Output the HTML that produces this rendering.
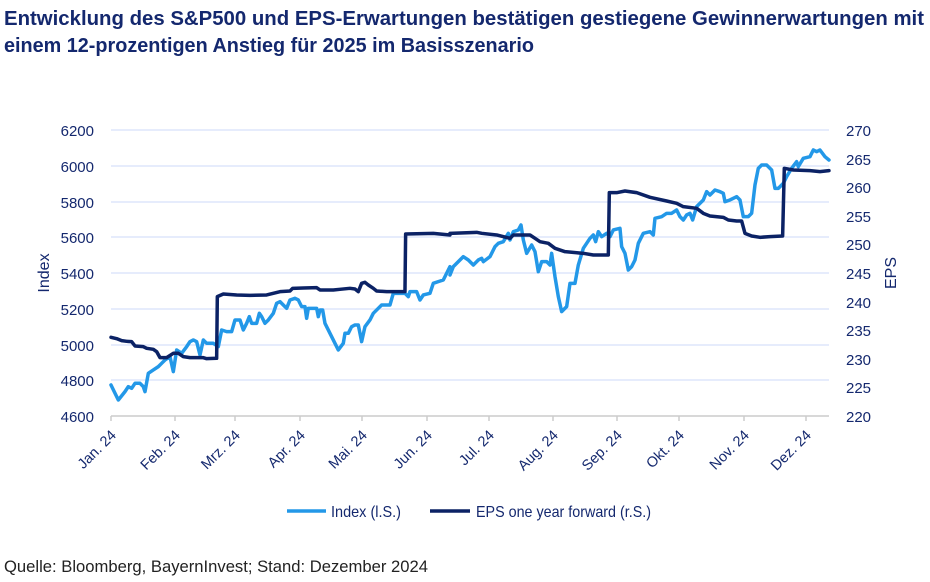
<!DOCTYPE html>
<html><head><meta charset="utf-8"><style>
body{margin:0;background:#fff;}
svg{display:block;font-family:"Liberation Sans Narrow","Liberation Sans",sans-serif;}
</style></head><body>
<svg width="930" height="582" viewBox="0 0 930 582">
<text x="4" y="25" font-size="20" font-weight="bold" fill="#14286e" textLength="920" lengthAdjust="spacingAndGlyphs">Entwicklung des S&amp;P500 und EPS-Erwartungen bestätigen gestiegene Gewinnerwartungen mit</text>
<text x="4" y="52" font-size="20" font-weight="bold" fill="#14286e" textLength="530" lengthAdjust="spacingAndGlyphs">einem 12-prozentigen Anstieg für 2025 im Basisszenario</text>
<g stroke="#dde6fb" stroke-width="1.5">
<line x1="111" x2="829" y1="130" y2="130"/><line x1="111" x2="829" y1="166" y2="166"/><line x1="111" x2="829" y1="202" y2="202"/><line x1="111" x2="829" y1="237" y2="237"/><line x1="111" x2="829" y1="273" y2="273"/><line x1="111" x2="829" y1="309" y2="309"/><line x1="111" x2="829" y1="345" y2="345"/><line x1="111" x2="829" y1="380" y2="380"/>
</g>
<line x1="111" x2="829" y1="416" y2="416" stroke="#ccc" stroke-width="1.5"/>
<g stroke="#ccc" stroke-width="1.5">
<line x1="111" x2="111" y1="416" y2="421"/><line x1="175" x2="175" y1="416" y2="421"/><line x1="235" x2="235" y1="416" y2="421"/><line x1="300" x2="300" y1="416" y2="421"/><line x1="362" x2="362" y1="416" y2="421"/><line x1="427" x2="427" y1="416" y2="421"/><line x1="489" x2="489" y1="416" y2="421"/><line x1="553" x2="553" y1="416" y2="421"/><line x1="617" x2="617" y1="416" y2="421"/><line x1="679" x2="679" y1="416" y2="421"/><line x1="744" x2="744" y1="416" y2="421"/><line x1="806" x2="806" y1="416" y2="421"/>
</g>
<g font-size="15" fill="#14286e" text-anchor="end">
<text x="94" y="136">6200</text><text x="94" y="172">6000</text><text x="94" y="208">5800</text><text x="94" y="243">5600</text><text x="94" y="279">5400</text><text x="94" y="315">5200</text><text x="94" y="351">5000</text><text x="94" y="386">4800</text><text x="94" y="422">4600</text>
</g>
<g font-size="15" fill="#14286e">
<text x="846" y="136">270</text><text x="846" y="165">265</text><text x="846" y="193">260</text><text x="846" y="222">255</text><text x="846" y="250">250</text><text x="846" y="279">245</text><text x="846" y="308">240</text><text x="846" y="336">235</text><text x="846" y="365">230</text><text x="846" y="393">225</text><text x="846" y="422">220</text>
</g>
<text transform="translate(49,273) rotate(-90)" font-size="16" fill="#14286e" text-anchor="middle">Index</text>
<text transform="translate(896,273) rotate(-90)" font-size="16" fill="#14286e" text-anchor="middle">EPS</text>
<g font-size="14.5" fill="#14286e" text-anchor="end">
<text transform="translate(117,436) rotate(-45)">Jan. 24</text>
<text transform="translate(181,436) rotate(-45)">Feb. 24</text>
<text transform="translate(241,436) rotate(-45)">Mrz. 24</text>
<text transform="translate(306,436) rotate(-45)">Apr. 24</text>
<text transform="translate(368,436) rotate(-45)">Mai. 24</text>
<text transform="translate(433,436) rotate(-45)">Jun. 24</text>
<text transform="translate(495,436) rotate(-45)">Jul. 24</text>
<text transform="translate(559,436) rotate(-45)">Aug. 24</text>
<text transform="translate(623,436) rotate(-45)">Sep. 24</text>
<text transform="translate(685,436) rotate(-45)">Okt. 24</text>
<text transform="translate(750,436) rotate(-45)">Nov. 24</text>
<text transform="translate(812,436) rotate(-45)">Dez. 24</text>
</g>
<g fill="none" stroke-linejoin="round" stroke-linecap="round">
<g transform="translate(50,120) scale(0.3333)">
<polyline vector-effect="non-scaling-stroke" stroke="#2398e8" stroke-width="3.5" points="183,795 205,840 225,815 235,800 245,805 255,790 270,790 280,800 285,815 295,760 310,750 325,740 335,730 345,720 360,710 370,755 380,690 395,700 410,680 420,665 430,660 440,665 450,705 460,660 470,670 490,670 505,680 515,630 530,635 545,635 555,600 570,600 580,630 590,610 598,590 605,610 620,610 628,580 635,590 645,610 655,600 670,580 680,550 690,545 700,555 710,565 720,540 735,535 745,540 755,560 765,560 770,595 775,565 790,565 800,565 805,590 810,570 818,570 825,610 840,640 855,670 865,690 880,670 885,640 895,640 905,620 915,615 925,615 935,665 945,620 960,600 970,580 985,565 995,555 1010,555 1020,555 1030,520 1050,520 1065,520 1075,530 1080,515 1100,515 1110,540 1120,525 1140,520 1150,490 1165,485 1180,480 1200,440"/>
<polyline vector-effect="non-scaling-stroke" stroke="#0b2265" stroke-width="3.5" points="183,652 200,656 215,662 230,664 245,665 255,678 280,680 290,685 310,688 320,695 330,713 350,713 370,700 385,700 400,710 420,713 460,713 470,716 500,715 502,530 520,522 560,525 600,526 650,525 670,520 690,515 720,513 728,505 760,504 800,503 810,510 850,510 870,508 900,505 915,507 925,515 935,490 945,487 955,495 970,505 980,513 1010,515 1060,515 1065,515 1067,342 1150,340 1200,345"/>
</g>
<g transform="translate(450,120) scale(0.3333)">
<polyline vector-effect="non-scaling-stroke" stroke="#2398e8" stroke-width="3.5" points="0,465 10,440 25,425 40,410 55,420 70,435 85,420 95,415 100,425 120,410 135,380 145,370 160,365 175,340 180,360 190,335 205,330 213,315 220,360 230,400 245,375 255,395 265,455 275,425 290,425 300,435 305,400 315,470 325,530 335,575 350,560 360,490 375,490 385,435 400,385 410,370 420,355 430,345 437,365 445,335 455,350 470,340 480,350 490,330 510,325 515,380 525,400 535,450 545,440 555,420 565,370 580,340 600,335 610,345 615,295 635,290 650,280 665,280 680,270 690,290 700,300 710,285 720,280 728,300 740,260 760,240 770,215 780,225 795,210 810,215 820,220 825,245 840,240 860,230 870,240 880,290 895,290 905,280 915,195 925,145 935,135 950,135 965,150 975,205 985,205 1000,190 1010,170 1025,145 1040,125 1045,140 1060,115 1080,110 1090,90 1100,95 1110,90 1125,110 1137,120"/>
<polyline vector-effect="non-scaling-stroke" stroke="#0b2265" stroke-width="3.5" points="0,340 80,337 95,340 140,345 180,355 190,345 240,345 255,355 270,365 295,370 315,385 345,395 400,400 430,405 475,405 478,218 500,218 525,213 560,218 600,232 650,243 680,250 700,260 740,265 760,280 780,288 820,292 835,300 860,303 875,303 885,340 905,348 930,352 960,350 998,348 1003,145 1030,150 1080,152 1110,155 1137,152"/>
</g>
</g>
<line x1="287" x2="326" y1="511" y2="511" stroke="#2398e8" stroke-width="3.5"/>
<text x="331" y="517" font-size="16" fill="#14286e" textLength="70" lengthAdjust="spacingAndGlyphs">Index (l.S.)</text>
<line x1="430" x2="470" y1="511" y2="511" stroke="#0b2265" stroke-width="3.5"/>
<text x="476" y="517" font-size="16" fill="#14286e" textLength="175" lengthAdjust="spacingAndGlyphs">EPS one year forward (r.S.)</text>
<text x="4" y="572" font-size="17" fill="#222" textLength="424" lengthAdjust="spacingAndGlyphs">Quelle: Bloomberg, BayernInvest; Stand: Dezember 2024</text>
</svg>
</body></html>
